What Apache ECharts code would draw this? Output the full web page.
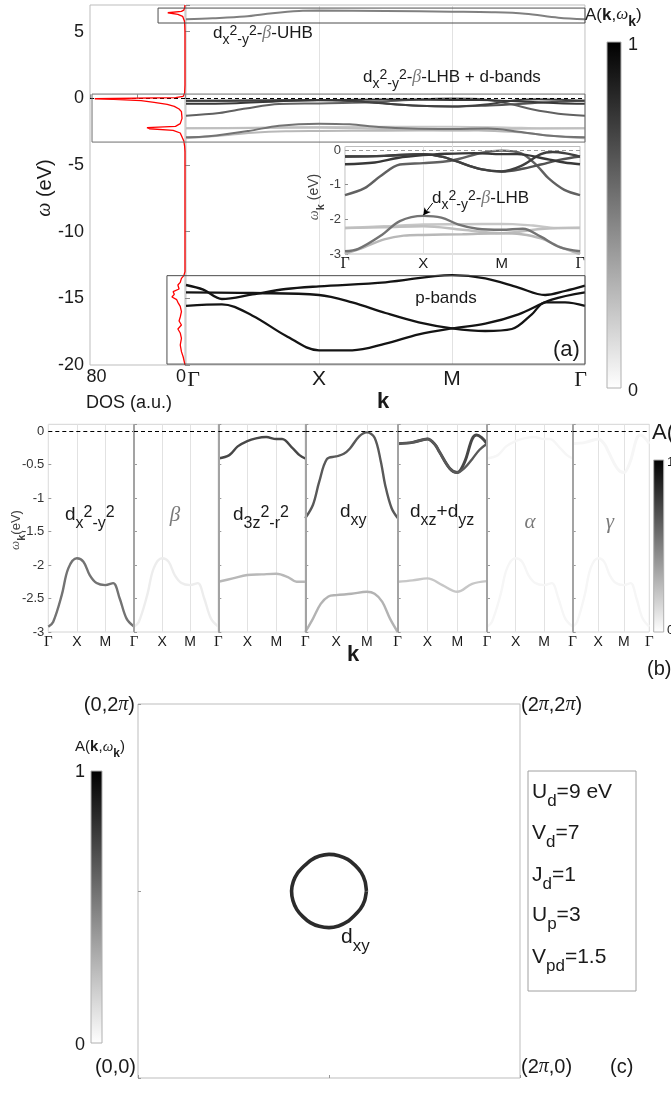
<!DOCTYPE html>
<html><head><meta charset="utf-8">
<script src="https://cdn.jsdelivr.net/npm/echarts@6/dist/echarts.min.js"></script>
<style>html,body{margin:0;padding:0;background:#fff}#c{width:671px;height:1098px}</style>
</head><body><div id="c"></div>
<script>
// ---------------- DATA ----------------
const kTicks = ['Γ', 'X', 'M', 'Γ'];
// DOS curve: [DOS (a.u.), omega (eV)]
const dosCurve = [[0,7],[0.3,6.8],[1,6.62],[3,6.52],[14.5,6.42],[6,6.3],[2,6.15],[1,6.0],[0.5,5.8],[0.2,5.5],[0,5],[0,1],[0.3,0.4],[1.5,0.15],[8,0.05],[76,-0.03],[60,-0.08],[37,-0.17],[26,-0.3],[15,-0.45],[9,-0.6],[5,-0.8],[3,-1.0],[2.5,-1.5],[4,-1.9],[8,-2.1],[32,-2.2],[30,-2.28],[10,-2.4],[4,-2.6],[2.5,-2.9],[1,-3.2],[0.3,-3.6],[0,-4],[0,-13.0],[1,-13.3],[3,-13.5],[4,-13.8],[6,-14.0],[5,-14.3],[10,-14.5],[9,-14.7],[11,-14.9],[7,-15.1],[6,-15.3],[4,-15.6],[3,-16.0],[4,-16.4],[5,-16.7],[3,-17.0],[6,-17.3],[4,-17.6],[3,-18.0],[4,-18.5],[3,-19.0],[1.5,-19.4],[0.5,-19.8],[0,-20]];
// bands: [k (Γ=0, X=1, M=2, Γ=3), omega (eV)]
const bandUHB = [[0,5.93],[0.2,6.0],[0.44,6.13],[0.65,6.38],[0.85,6.55],[1,6.58],[1.5,6.55],[2,6.5],[2.3,6.46],[2.55,6.35],[2.8,6.05],[3,5.93]];
const bandD3z2Up = [[0,-0.41],[0.38,-0.36],[0.67,-0.23],[1,-0.15],[1.3,-0.11],[1.65,-0.09],[2,-0.12],[2.2,-0.12],[2.57,-0.26],[2.8,-0.36],[3,-0.41]];
const bandDxzA = [[0,-0.19],[0.5,-0.17],[1,-0.12],[1.25,-0.2],[1.4,-0.31],[1.75,-0.56],[2,-0.62],[2.25,-0.46],[2.5,-0.12],[2.65,-0.06],[2.82,-0.1],[3,-0.19]];
const bandDxzB = [[0,-0.19],[0.5,-0.17],[1,-0.12],[1.25,-0.2],[1.4,-0.31],[1.75,-0.56],[2,-0.62],[2.25,-0.55],[2.5,-0.42],[2.75,-0.28],[3,-0.19]];
const bandDxyUp = [[0,-1.3],[0.25,-1.1],[0.45,-0.76],[0.7,-0.42],[1,-0.38],[1.25,-0.34],[1.45,-0.26],[1.75,-0.08],[2,-0.02],[2.25,-0.1],[2.45,-0.45],[2.6,-0.82],[2.8,-1.15],[3,-1.3]];
const bandDxyLow = [[0,-3.0],[0.25,-2.8],[0.5,-2.58],[0.75,-2.47],[1,-2.45],[1.5,-2.43],[2,-2.4],[2.25,-2.43],[2.5,-2.55],[2.75,-2.8],[3,-3.0]];
const bandLHB = [[0,-2.92],[0.17,-2.85],[0.47,-2.45],[0.7,-2.05],[1,-1.9],[1.23,-1.95],[1.45,-2.15],[1.69,-2.27],[2,-2.3],[2.27,-2.27],[2.5,-2.5],[2.74,-2.8],[3,-2.92]];
const bandD3z2Low = [[0,-2.25],[0.5,-2.2],[1,-2.15],[1.5,-2.14],[2,-2.13],[2.4,-2.18],[2.7,-2.25],[3,-2.25]];
const bandDxzLow = [[0,-2.25],[0.5,-2.23],[1,-2.2],[1.5,-2.3],[2,-2.4],[2.5,-2.28],[3,-2.24]];
const pBand1 = [[0,-14.0],[0.13,-14.35],[0.27,-15.05],[0.5,-14.7],[0.75,-14.3],[1,-14.1],[1.5,-13.8],[2,-13.26],[2.25,-13.5],[2.5,-14.2],[2.7,-14.75],[2.85,-14.45],[3,-14.05]];
const pBand2 = [[0,-14.55],[0.5,-14.6],[1,-14.75],[1.25,-15.3],[1.5,-16.1],[1.75,-16.8],[2,-17.25],[2.25,-17.45],[2.45,-17.3],[2.6,-16.2],[2.7,-15.3],[2.85,-15.3],[3,-15.56]];
const pBand3 = [[0,-15.56],[0.27,-15.45],[0.5,-16.3],[0.75,-17.8],[1,-18.9],[1.25,-18.9],[1.5,-18.4],[1.75,-17.7],[2,-17.25],[2.25,-16.9],[2.5,-16.2],[2.75,-15.1],[3,-14.55]];
// spectral weight A (0..1) of each band in panel (a)
const weightA = {uhb:0.5, d3z2Up:0.78, dxzA:0.75, dxzB:0.68, dxyUp:0.62, dxyLow:0.28, lhb:0.55, d3z2Low:0.22, dxzLow:0.25, p:0.92};
// panel (b): orbital-resolved weights
const orbitalNames = ['dx2y2', 'beta', 'd3z2', 'dxy', 'dxz', 'alpha', 'gamma'];
const orbitalBands = [
  [['lhb',0.55]],
  [['lhb',0.07]],
  [['d3z2Up',0.72],['d3z2Low',0.28]],
  [['dxyUp',0.65],['dxyLow',0.3]],
  [['dxzA',0.72],['dxzB',0.65],['dxzLow',0.22]],
  [['lhb',0.035],['d3z2Up',0.035]],
  [['lhb',0.035],['dxzA',0.035]]
];
// Fermi surface (units of π)
const fsKx = [1.196,1.189,1.169,1.137,1.098,1.051,1.000,0.950,0.905,0.868,0.835,0.813,0.804,0.811,0.831,0.863,0.902,0.949,1.000,1.050,1.095,1.132,1.165,1.187,1.196];
const fsKy = [1.000,1.051,1.098,1.137,1.169,1.189,1.196,1.187,1.165,1.132,1.095,1.050,1.000,0.949,0.902,0.863,0.831,0.811,0.804,0.813,0.835,0.868,0.905,0.950,1.000];
// framing boxes in panel (a): [DOS at left edge, omega top, omega bottom]
const boxUHB = [22.7, 6.77, 5.65];
const boxLHB = [78.3, 0.32, -3.28];
const boxP = [15.2, -13.3, -19.93];
const params = [['U','d','=9 eV'],['V','d','=7'],['J','d','=1'],['U','p','=3'],['V','pd','=1.5']];

// ---------------- STYLE / BUILD ----------------
const bandData = {uhb:bandUHB, d3z2Up:bandD3z2Up, dxzA:bandDxzA, dxzB:bandDxzB, dxyUp:bandDxyUp, dxyLow:bandDxyLow, lhb:bandLHB, d3z2Low:bandD3z2Low, dxzLow:bandDxzLow};
const SANS = 'Liberation Sans', SERIF = 'Liberation Serif', INK = '#1a1a1a';
function gray(a){ const v = Math.round(255*(1-a)); return 'rgb('+v+','+v+','+v+')'; }

const chart = echarts.init(document.getElementById('c'), null, {renderer:'canvas'});

const bX = [48.3,134,218.3,305.3,397.7,487,572.7,649.3];
const grids = [
  {left:90, top:5, width:95, height:360},
  {left:186, top:5, width:399, height:360},
  {left:345, top:146.5, width:235, height:107.5}
];
for (let i=0;i<7;i++) grids.push({left:bX[i], top:424.3, width:bX[i+1]-bX[i], height:207.7});
grids.push({left:138, top:704, width:382, height:374});
grids.forEach((g,i)=>{ g.show=true; g.borderWidth=1; g.borderColor = (i>=3&&i<=9)?'#d4d4d4':'#bdbdbd'; });

const kRich = (F)=>({
  g:{fontFamily:SERIF,fontSize:F+1,color:INK},
  g0:{fontFamily:SERIF,fontSize:F+1,color:INK,padding:[0,0,0,15]},
  g3:{fontFamily:SERIF,fontSize:F+1,color:INK,padding:[0,9,0,0]},
  s:{fontFamily:SANS,fontSize:F,color:INK}
});
function kFmt(shift){ return (v)=>{ const t=kTicks[v]; if(t===undefined) return ''; if(t==='Γ') return '{'+(shift?(v===0?'g0':'g3'):'g')+'|Γ}'; return '{s|'+t+'}'; }; }

const tickStyle = {inside:true, length:4, lineStyle:{color:'#8c8c8c'}};
const xAxes = [], yAxes = [];
// DOS
xAxes.push({gridIndex:0,type:'value',min:0,max:80,interval:40,inverse:true,axisLine:{show:false},axisTick:tickStyle,splitLine:{show:false},
  axisLabel:{margin:3,formatter:(v)=>v===80?'{a|80}':(v===0?'{b|0}':''),rich:{a:{fontSize:18,fontFamily:SANS,color:INK,padding:[0,0,0,13]},b:{fontSize:18,fontFamily:SANS,color:INK,padding:[0,8,0,0]}}}});
yAxes.push({gridIndex:0,type:'value',min:-20,max:7,interval:5,axisLine:{show:false},axisTick:tickStyle,splitLine:{show:false},
  axisLabel:{fontSize:18,fontFamily:SANS,color:INK,margin:6,showMaxLabel:false}});
// bands (a)
xAxes.push({gridIndex:1,type:'value',min:0,max:3,interval:1,axisLine:{show:false},axisTick:{show:false},splitLine:{show:true,lineStyle:{color:'#e2e2e2'}},
  axisLabel:{margin:4,formatter:kFmt(true),rich:kRich(21)}});
yAxes.push({gridIndex:1,type:'value',min:-20,max:7,interval:5,axisLine:{show:false},axisTick:tickStyle,splitLine:{show:false},axisLabel:{show:false}});
// inset
xAxes.push({gridIndex:2,type:'value',min:0,max:3,interval:1,axisLine:{show:false},axisTick:{show:false},splitLine:{show:true,lineStyle:{color:'#e2e2e2'}},
  axisLabel:{margin:2,formatter:kFmt(false),rich:kRich(15)}});
yAxes.push({gridIndex:2,type:'value',min:-3,max:0.1,interval:1,axisLine:{show:false},axisTick:{inside:true,length:3,lineStyle:{color:'#8c8c8c'}},splitLine:{show:false},
  axisLabel:{fontSize:13,fontFamily:SANS,color:'#404040',margin:4,showMaxLabel:false}});
// panel (b)
for (let i=0;i<7;i++){
  xAxes.push({gridIndex:3+i,type:'value',min:0,max:3,interval:1,axisLine:{show:false},axisTick:{show:false},splitLine:{show:true,lineStyle:{color:'#e2e2e2'}},
    axisLabel:{margin:3,showMinLabel:i===0,formatter:kFmt(false),rich:kRich(14)}});
  yAxes.push({gridIndex:3+i,type:'value',min:-3,max:0.1,interval:0.5,axisLine:{show:false},
    axisTick:{show:true,inside:true,length:3,lineStyle:{color:'#9a9a9a'}},splitLine:{show:false},
    axisLabel:{show:i===0,fontSize:13,fontFamily:SANS,color:'#333',margin:4,showMaxLabel:false}});
}
// panel (c)
xAxes.push({gridIndex:10,type:'value',min:0,max:2,interval:1,axisLine:{show:false},axisTick:{inside:true,length:3,lineStyle:{color:'#999'}},splitLine:{show:false},axisLabel:{show:false}});
yAxes.push({gridIndex:10,type:'value',min:0,max:2,interval:1,axisLine:{show:false},axisTick:{inside:true,length:3,lineStyle:{color:'#999'}},splitLine:{show:false},axisLabel:{show:false}});

const series = [];
const zeroDash = (color)=>({silent:true,symbol:['none','none'],label:{show:false},lineStyle:{color:color,type:[4,3],width:1.2},data:[{yAxis:0}]});
series.push({type:'line',xAxisIndex:0,yAxisIndex:0,data:dosCurve,symbol:'none',lineStyle:{color:'#ff0000',width:1.3},markLine:zeroDash('#000'),z:5});
function bandSeries(ax, data, a, w, extra){
  return Object.assign({type:'line',xAxisIndex:ax,yAxisIndex:ax,data:data,symbol:'none',smooth:0.35,lineStyle:{color:gray(a),width:w},silent:true}, extra||{});
}
// (a) main bands
const mainKeys = ['d3z2Low','dxzLow','dxyLow','lhb','dxyUp','dxzB','dxzA','d3z2Up'];
series.push(bandSeries(1, bandUHB, weightA.uhb, 2, {markLine:zeroDash('#000')}));
mainKeys.forEach(k=>series.push(bandSeries(1, bandData[k], weightA[k], 2)));
[pBand1,pBand2,pBand3].forEach(p=>series.push(bandSeries(1, p, weightA.p, 2.3)));
// inset
mainKeys.forEach((k,i)=>series.push(bandSeries(2, bandData[k], weightA[k], 2.4, i===0?{markLine:zeroDash('#9a9a9a')}:{})));
series.push({type:'line',xAxisIndex:2,yAxisIndex:2,data:[],markLine:{silent:true,symbol:['none','arrow'],symbolSize:[6,7],label:{show:false},
  lineStyle:{color:'#000',width:1,type:'solid'},data:[[{coord:[1.12,-1.53]},{coord:[1.0,-1.88]}]]}});
// panel (b)
orbitalBands.forEach((list,i)=>{
  const ax = 3+i;
  list.forEach(([key,a])=>series.push(bandSeries(ax, bandData[key], a, key==='dxzA'?3:2.4)));
  const ml = zeroDash('#000');
  if (i<6) ml.data = [{yAxis:0},{xAxis:3,lineStyle:{color:'#a3a3a3',type:'solid',width:2}}];
  series.push({type:'line',xAxisIndex:ax,yAxisIndex:ax,data:[],markLine:ml});
});
// panel (c)
series.push({type:'line',xAxisIndex:10,yAxisIndex:10,data:fsKx.map((x,i)=>[x,fsKy[i]]),symbol:'none',smooth:0.2,lineStyle:{color:'#2b2b2b',width:3.6},silent:true});

chart.setOption({animation:false,grid:grids,xAxis:xAxes,yAxis:yAxes,series:series});

// ---------------- ANNOTATIONS ----------------
function rs(F){
  const s = Math.round(F*0.82);
  return {
    n:{fontSize:F,fontFamily:SANS,fill:INK},
    sb:{fontSize:s,fontFamily:SANS,fill:INK,padding:[Math.round(F*0.9),0,0,0]},
    sp:{fontSize:s,fontFamily:SANS,fill:INK,padding:[0,0,Math.round(F*0.2),0]},
    g:{fontSize:F+1,fontFamily:SERIF,fontStyle:'italic',fill:'#7a7a7a'},
    b:{fontSize:F,fontFamily:SANS,fontWeight:'bold',fill:INK},
    bs:{fontSize:s,fontFamily:SANS,fontWeight:'bold',fill:INK,padding:[Math.round(F*0.9),0,0,0]},
    w:{fontSize:F,fontFamily:SERIF,fontStyle:'italic',fill:INK},
    wg:{fontSize:F,fontFamily:SERIF,fontStyle:'italic',fill:'#555'},
    ng:{fontSize:F,fontFamily:SANS,fill:'#404040'},
    bsg:{fontSize:s,fontFamily:SANS,fontWeight:'bold',fill:'#404040',padding:[Math.round(F*0.9),0,0,0]}
  };
}
function T(x,y,str,F,align,rot){
  return {type:'text',x:x,y:y,rotation:rot||0,silent:true,z:50,
    style:{text:str,rich:rs(F),align:align||'left',verticalAlign:'middle',fill:INK,fontSize:F,fontFamily:SANS}};
}
const gfx = [];
const cv = (ax, pt)=>chart.convertToPixel({xAxisIndex:ax,yAxisIndex:ax}, pt);
[boxUHB, boxLHB, boxP].forEach((b,i)=>{
  const p1 = cv(0,[b[0],b[1]]), p2 = cv(1,[3,b[2]]);
  gfx.push({type:'rect',silent:true,z:40,shape:{x:p1[0],y:p1[1],width:p2[0]-p1[0],height:p2[1]-p1[1]},
    style:{fill:'none',stroke:i===1?'#6e6e6e':'#4d4d4d',lineWidth:1}});
});
const grad = ()=>new echarts.graphic.LinearGradient(0,0,0,1,[{offset:0,color:'#000'},{offset:1,color:'#fff'}]);
// colorbars
gfx.push({type:'rect',silent:true,shape:{x:607,y:42,width:14,height:346},style:{fill:grad(),stroke:'#b0b0b0',lineWidth:1}});
gfx.push({type:'rect',silent:true,shape:{x:653.7,y:460,width:10,height:172},style:{fill:grad(),stroke:'#b0b0b0',lineWidth:1}});
gfx.push({type:'rect',silent:true,shape:{x:91,y:771,width:11,height:272},style:{fill:grad(),stroke:'#b0b0b0',lineWidth:1}});
// param box
gfx.push({type:'rect',silent:true,shape:{x:528,y:771,width:108,height:220},style:{fill:'none',stroke:'#a0a0a0',lineWidth:1}});

const LHBtxt = '{n|d}{sb|x}{sp|2}{sb|-y}{sp|2}{n|-}{g|β}';
const Atxt = '{n|A(}{b|k}{n|,}{w|ω}{bs|k}{n|)}';
gfx.push(T(213,33,LHBtxt+'{n|-UHB}',17));
gfx.push(T(363,77,LHBtxt+'{n|-LHB + d-bands}',17));
gfx.push(T(432,198,LHBtxt+'{n|-LHB}',17));
gfx.push(T(446,298,'{n|p-bands}',17,'center'));
gfx.push(T(553,350,'{n|(a)}',22));
gfx.push(T(86,403,'{n|DOS (a.u.)}',18));
gfx.push(T(383,402,'{b|k}',22,'center'));
gfx.push(T(45,188,'{w|ω}{n| (eV)}',20,'center',Math.PI/2));
gfx.push(T(585,15,Atxt,17));
gfx.push(T(628,45,'{n|1}',18));
gfx.push(T(628,391,'{n|0}',18));
gfx.push(T(314,197,'{wg|ω}{bsg|k}{ng| (eV)}',14,'center',Math.PI/2));
// panel (b)
gfx.push(T(65,515,'{n|d}{sb|x}{sp|2}{sb|-y}{sp|2}',19));
gfx.push(T(175,515,'{g|β}',20,'center'));
gfx.push(T(233,515,'{n|d}{sb|3z}{sp|2}{sb|-r}{sp|2}',19));
gfx.push(T(340,512,'{n|d}{sb|xy}',19));
gfx.push(T(410,512,'{n|d}{sb|xz}{n|+d}{sb|yz}',19));
gfx.push(T(530,522,'{g|α}',20,'center'));
gfx.push(T(610,522,'{g|γ}',20,'center'));
gfx.push(T(16,530,'{wg|ω}{bsg|k}{ng|(eV)}',13,'center',Math.PI/2));
gfx.push(T(353,655,'{b|k}',22,'center'));
gfx.push(T(647,669,'{n|(b)}',20));
gfx.push(T(652,433,Atxt,22));
gfx.push(T(667,630,'{n|0}',13));
gfx.push(T(667,462,'{n|1}',13));
// panel (c)
gfx.push(T(135,705,'{n|(0,2}{w|π}{n|)}',20,'right'));
gfx.push(T(521,705,'{n|(2}{w|π}{n|,2}{w|π}{n|)}',20));
gfx.push(T(136,1067,'{n|(0,0)}',20,'right'));
gfx.push(T(521,1067,'{n|(2}{w|π}{n|,0)}',20));
gfx.push(T(610,1067,'{n|(c)}',20));
gfx.push(T(100,747,Atxt,15,'center'));
gfx.push(T(85,772,'{n|1}',18,'right'));
gfx.push(T(85,1045,'{n|0}',18,'right'));
gfx.push(T(341,937,'{n|d}{sb|xy}',21));
const pY = [792,833,875,915,957];
params.forEach((p,i)=>gfx.push(T(532,pY[i],'{n|'+p[0]+'}{sb|'+p[1]+'}{n|'+p[2]+'}',21)));

chart.setOption({graphic:gfx});
</script>
</body></html>
